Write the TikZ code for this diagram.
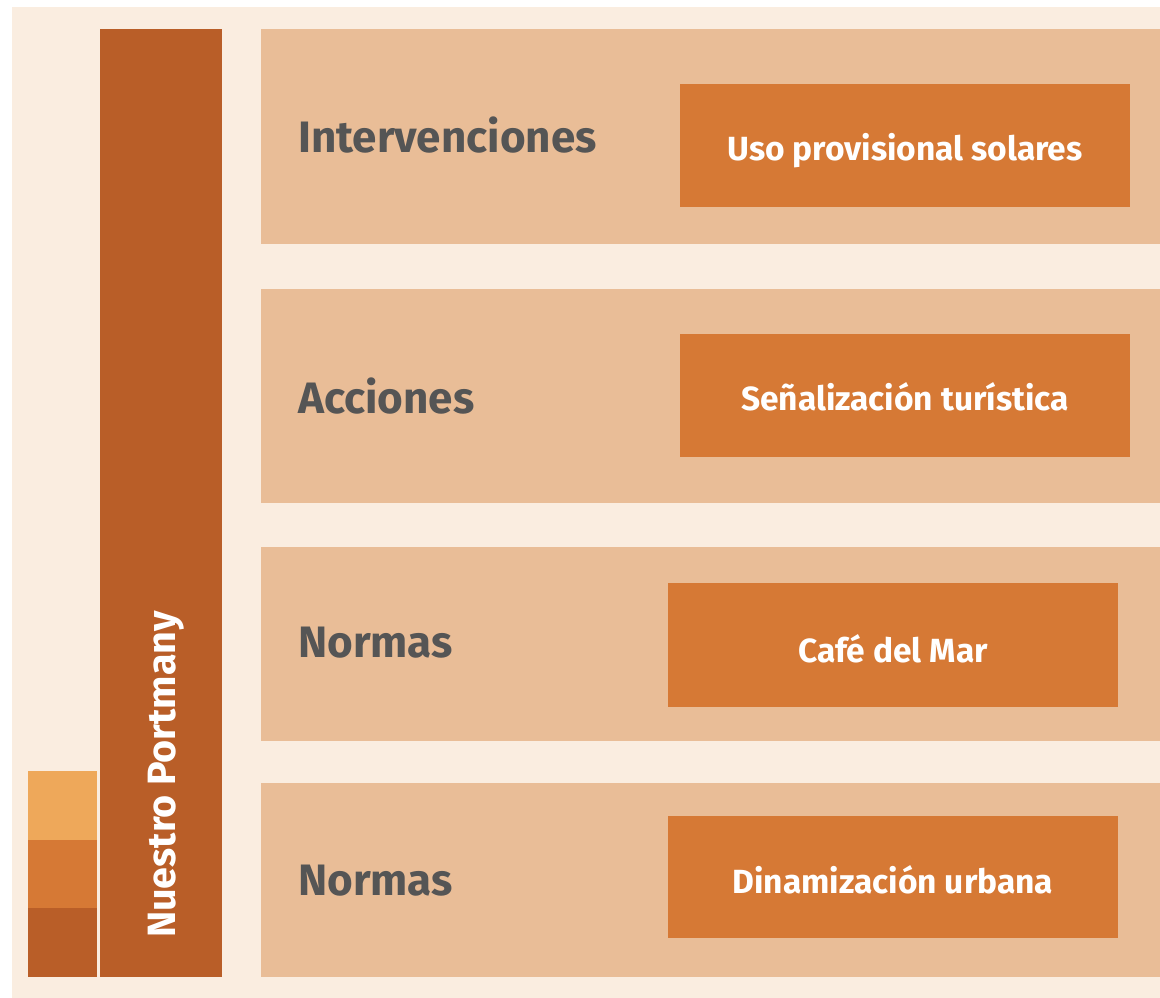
\documentclass[tikz,border=0pt]{standalone}
\usepackage{fontspec}
\setmainfont{Fira Sans}
\definecolor{cream}{HTML}{FAEDE0}
\definecolor{panel}{HTML}{E9BD97}
\definecolor{boxc}{HTML}{D67935}
\definecolor{darkc}{HTML}{B95E28}
\definecolor{lightc}{HTML}{EEA85A}
\definecolor{txtgray}{HTML}{555555}
\begin{document}
\begin{tikzpicture}[x=1pt,y=-1pt,
  label/.style={anchor=base west,text=txtgray,font=\fontsize{44}{44}\selectfont\bfseries,inner sep=0pt},
  boxtext/.style={anchor=base,text=white,font=\fontsize{33.5}{33.5}\selectfont\bfseries,inner sep=0pt},
  panelbox/.style={fill=panel},
  itembox/.style={fill=boxc}]
\useasboundingbox (0,0) rectangle (1160,998);
\fill[white] (0,0) rectangle (1160,998);
\fill[cream] (12,7) rectangle (1160,998);
% legend
\fill[lightc] (28,771) rectangle (97,840);
\fill[boxc] (28,840) rectangle (97,908);
\fill[darkc] (28,908) rectangle (97,977);
% main bar
\fill[darkc] (100,29) rectangle (222,977);
\node[rotate=90,anchor=base west,text=white,font=\fontsize{39.5}{39.5}\selectfont\bfseries,inner sep=0pt] (np) at (175,938) {Nuestro Portmany};
% panels
\fill[panelbox] (261,29) rectangle (1160,244);
\fill[panelbox] (261,289) rectangle (1160,503);
\fill[panelbox] (261,547) rectangle (1160,741);
\fill[panelbox] (261,783) rectangle (1160,977);
% item boxes
\fill[itembox] (680,84) rectangle (1130,207);
\fill[itembox] (680,334) rectangle (1130,457);
\fill[itembox] (668,583) rectangle (1118,707);
\fill[itembox] (668,816) rectangle (1118,938);
% labels
\node[label] (l1) at (298,152) {Intervenciones};
\node[label] (l2) at (298,413) {Acciones};
\node[label] (l3) at (298,657) {Normas};
\node[label] (l4) at (298,895) {Normas};
% box texts
\node[boxtext] (b1) at (905,160) {Uso provisional solares};
\node[boxtext] (b2) at (905,410) {Señalización turística};
\node[boxtext] (b3) at (893,662) {Café del Mar};
\node[boxtext] (b4) at (893,893) {Dinamización urbana};
\end{tikzpicture}
\end{document}
